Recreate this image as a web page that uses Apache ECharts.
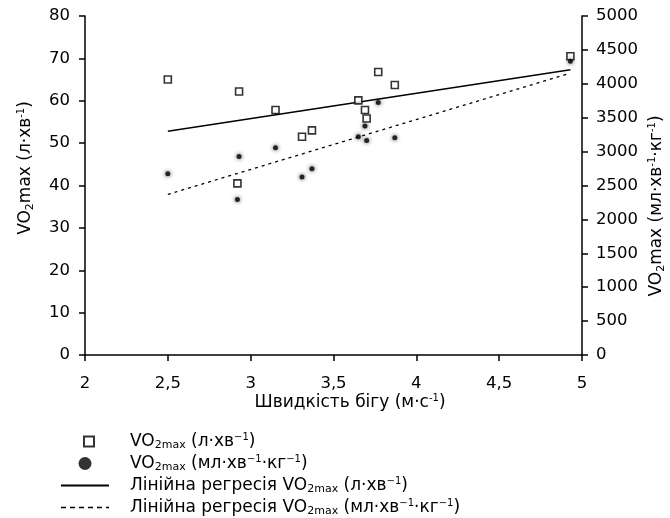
<!DOCTYPE html>
<html lang="uk">
<head>
<meta charset="UTF-8">
<title>VO2max</title>
<style>
  html, body { margin: 0; padding: 0; background: #fff; }
  #chart { width: 670px; height: 518px; }
</style>
</head>
<body>
<div id="chart"></div>
<script src="https://cdn.jsdelivr.net/npm/echarts@6/dist/echarts.min.js"></script>
<script>
// швидкість бігу (м/с) для кожного учасника
const speed = [2.5, 2.93, 3.15, 3.31, 3.37, 2.92, 3.65, 3.69, 3.70, 3.77, 3.87, 4.93];
// VO2max, л·хв-1 (квадрати, ліва вісь)
const vo2Abs = [65.0, 62.2, 57.8, 51.5, 53.0, 40.5, 60.1, 57.8, 55.8, 66.8, 63.7, 70.5];
// VO2max, мл·хв-1·кг-1 (точки, права вісь)
const speedRel = [2.5, 2.93, 3.15, 3.31, 3.37, 2.92, 3.65, 3.69, 3.70, 3.77, 3.87, 4.93];
const vo2Rel = [2672, 2929, 3056, 2624, 2746, 2295, 3218, 3376, 3165, 3725, 3203, 4334];
// кінці ліній регресії
const regAbsX = [2.5, 4.93];
const regAbsY = [52.8, 67.3];
const regRelX = [2.5, 4.92];
const regRelY = [2369, 4150];

const font = '"DejaVu Sans", sans-serif';
const rich = {
  sub: { fontSize: 11, fontFamily: font, color: '#000', verticalAlign: 'bottom', lineHeight: 19 },
  sup: { fontSize: 10, fontFamily: font, color: '#000', verticalAlign: 'top', lineHeight: 19 },
  n: { fontSize: 17, fontFamily: font, color: '#000', lineHeight: 19 }
};

const legendText = {
  abs: '{n|VO}{sub|2max}{n| (л·хв}{sup|−1}{n|)}',
  rel: '{n|VO}{sub|2max}{n| (мл·хв}{sup|−1}{n|·кг}{sup|−1}{n|)}',
  regAbs: '{n|Лінійна регресія VO}{sub|2max}{n| (л·хв}{sup|−1}{n|)}',
  regRel: '{n|Лінійна регресія VO}{sub|2max}{n| (мл·хв}{sup|−1}{n|·кг}{sup|−1}{n|)}'
};

// hollow square in a 48x13 legend box (tiny corner anchors keep the box size)
const squareIcon = 'path://M0,0L0.01,0L0,0.01Z M48,13L47.99,13L48,12.99Z ' +
  'M22,0.5h12v12h-12z M24,2.5v8h8v-8z';

const chart = echarts.init(document.getElementById('chart'));

const axisBase = {
  axisLine: { show: true, lineStyle: { color: '#000', width: 1.5 } },
  axisTick: { show: true, inside: false, length: 6, lineStyle: { color: '#000', width: 1.5 } },
  splitLine: { show: false },
  axisLabel: { color: '#000', fontSize: 16.5, fontFamily: font, formatter: v => String(v) }
};

const option = {
  animation: false,
  backgroundColor: '#fff',
  grid: { left: 85, right: 88, top: 16, bottom: 163 },
  xAxis: Object.assign({}, axisBase, {
    type: 'value', min: 2, max: 5, interval: 0.5,
    axisLabel: Object.assign({}, axisBase.axisLabel, {
      margin: 20,
      formatter: v => String(v).replace('.', ',')
    })
  }),
  yAxis: [
    Object.assign({}, axisBase, {
      type: 'value', min: 0, max: 80, interval: 10, position: 'left',
      axisLabel: Object.assign({}, axisBase.axisLabel, { margin: 15 })
    }),
    Object.assign({}, axisBase, {
      type: 'value', min: 0, max: 5000, interval: 500, position: 'right',
      axisLabel: Object.assign({}, axisBase.axisLabel, { margin: 14 })
    })
  ],
  legend: {
    orient: 'vertical',
    left: 60, top: 432, padding: 0,
    itemWidth: 48, itemHeight: 13, itemGap: 3,
    textStyle: { rich: rich, fontFamily: font, fontSize: 17, padding: [0, 0, 0, 16] },
    formatter: name => legendText[name],
    data: [
      { name: 'abs', icon: squareIcon, itemStyle: { color: '#000', borderWidth: 0 } },
      { name: 'rel', icon: 'circle', itemStyle: { color: '#000' } },
      { name: 'regAbs', itemStyle: { opacity: 0 } },
      { name: 'regRel', itemStyle: { opacity: 0 }, lineStyle: { type: [5, 4], width: 1.3 } }
    ]
  },
  graphic: [
    {
      type: 'text', x: 26, y: 168, rotation: Math.PI / 2,
      style: {
        text: '{n|VO}{sub|2}{n|max (л·хв}{sup|-1}{n|)}',
        rich: rich, align: 'center', verticalAlign: 'middle'
      }
    },
    {
      type: 'text', x: 657, y: 206, rotation: Math.PI / 2,
      style: {
        text: '{n|VO}{sub|2}{n|max (мл·хв}{sup|-1}{n|·кг}{sup|-1}{n|)}',
        rich: rich, align: 'center', verticalAlign: 'middle'
      }
    },
    {
      type: 'text', x: 350, y: 403,
      style: {
        text: '{n|Швидкість бігу (м·с}{sup|-1}{n|)}',
        rich: rich, align: 'center', verticalAlign: 'middle'
      }
    }
  ],
  series: [
    {
      name: 'regAbs', type: 'line', yAxisIndex: 0, symbol: 'none',
      itemStyle: { color: '#000' },
      lineStyle: { color: '#000', width: 1.5, type: 'solid' },
      data: regAbsX.map((x, i) => [x, regAbsY[i]]),
      z: 2
    },
    {
      name: 'regRel', type: 'line', yAxisIndex: 1, symbol: 'none',
      itemStyle: { color: '#000' },
      lineStyle: { color: '#000', width: 1.3, type: [3, 4] },
      data: regRelX.map((x, i) => [x, regRelY[i]]),
      z: 2
    },
    {
      name: 'abs', type: 'scatter', yAxisIndex: 0, symbol: 'rect', symbolSize: 7,
      itemStyle: { color: '#fff', borderColor: '#000', borderWidth: 1.6 },
      data: speed.map((x, i) => [x, vo2Abs[i]]),
      z: 3
    },
    {
      name: 'rel', type: 'scatter', yAxisIndex: 1, symbol: 'circle', symbolSize: 5,
      itemStyle: { color: '#000', shadowBlur: 4, shadowColor: 'rgba(0,0,0,0.9)' },
      data: speedRel.map((x, i) => [x, vo2Rel[i]]),
      z: 4
    }
  ]
};

chart.setOption(option);
</script>
</body>
</html>
